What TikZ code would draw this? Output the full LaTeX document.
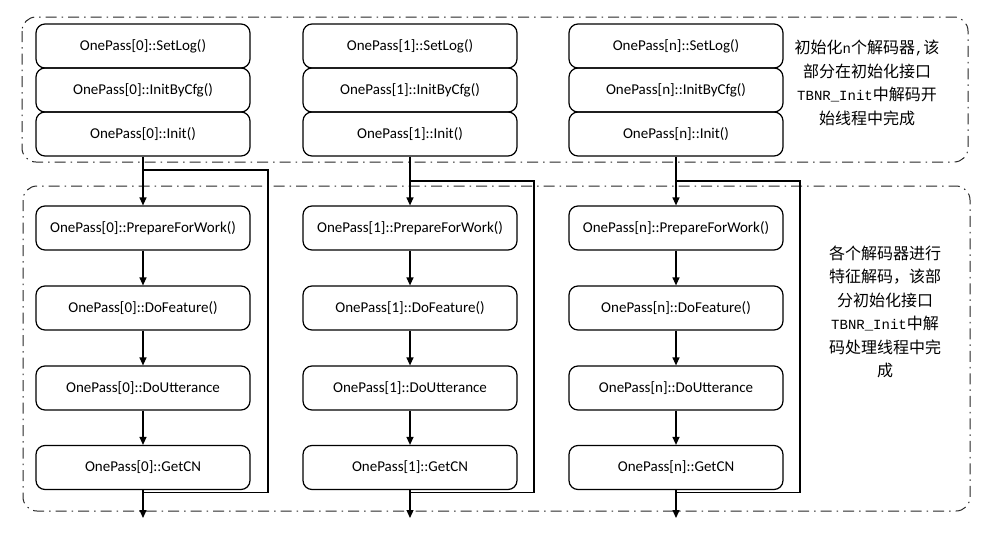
\documentclass[tikz,border=0pt]{standalone}
\usepackage{fontspec}
\setmainfont{Carlito}
\newfontfamily\cjk{Noto Sans CJK SC}
\newfontfamily\monofam{Liberation Mono}
\usetikzlibrary{arrows.meta}

\begin{document}
\begin{tikzpicture}[x=1pt,y=-1pt,
  stepbox/.style={draw, line width=1.2pt, rounded corners=9pt,
    minimum width=214pt, minimum height=44pt, inner sep=0pt,
    font=\fontsize{15}{17}\selectfont},
  region/.style={draw=black!85, line width=1pt, rounded corners=14pt,
    dash pattern=on 11pt off 5pt on 1.5pt off 5pt},
  flow/.style={line width=1.2pt, -{Triangle[length=8pt,width=7pt]}},
  loopline/.style={line width=1.2pt},
  note/.style={align=center, inner sep=0pt, font=\cjk\fontsize{16}{23.5}\selectfont}
]
\useasboundingbox (0,0) rectangle (991,533);

% dash-dot frames around the two phases
\draw[region] (22,17) rectangle (968,162);
\draw[region] (23,186) rectangle (970,511);

% one column of calls per decoder
\foreach \c/\x/\lab/\rx/\ty in {0/143/0/268/170, 1/410/1/534/181, 2/676/n/800/181}{
  \node[stepbox] (set\c)  at (\x,46)  {OnePass[\lab]::SetLog()};
  \node[stepbox] (cfg\c)  at (\x,90)  {OnePass[\lab]::InitByCfg()};
  \node[stepbox] (init\c) at (\x,134) {OnePass[\lab]::Init()};
  \node[stepbox] (prep\c) at (\x,228) {OnePass[\lab]::PrepareForWork()};
  \node[stepbox] (feat\c) at (\x,308) {OnePass[\lab]::DoFeature()};
  \node[stepbox] (utt\c)  at (\x,388) {OnePass[\lab]::DoUtterance};
  \node[stepbox] (cn\c)   at (\x,467.5) {OnePass[\lab]::GetCN};
  \coordinate (out\c) at (\x,518);
  \coordinate (ret\c) at (\rx,\ty);
  \draw[flow] (init\c.south) -- (prep\c.north);
  \draw[flow] (prep\c) -- (feat\c);
  \draw[flow] (feat\c) -- (utt\c);
  \draw[flow] (utt\c) -- (cn\c);
  \draw[flow] (cn\c.south) -- (out\c);
  % loop back to the next PrepareForWork
  \draw[loopline] (cn\c.south) ++(0,2.5) -| (ret\c) -- (init\c.south |- ret\c);
}

\node[note] (topnote) at (867,83)
  {初始化{\monofam\fontsize{14}{23.5}\selectfont n}个解码器{\monofam\fontsize{14}{23.5}\selectfont ,}该\\
   部分在初始化接口\\
   {\monofam\fontsize{14}{23.5}\selectfont TBNR\_Init}中解码开\\
   始线程中完成};
\node[note] (botnote) at (885,312)
  {各个解码器进行\\
   特征解码，该部\\
   分初始化接口\\
   {\monofam\fontsize{14}{23.5}\selectfont TBNR\_Init}中解\\
   码处理线程中完\\
   成};
\end{tikzpicture}
\end{document}
